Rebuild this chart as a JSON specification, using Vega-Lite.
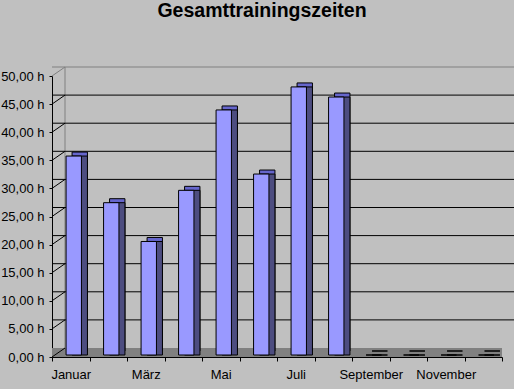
{
  "$schema": "https://vega.github.io/schema/vega-lite/v6.json",
  "width": 450,
  "height": 281,
  "autosize": "none",
  "padding": {"left": 52, "top": 76, "right": 12, "bottom": 32},
  "background": "#c0c0c0",
  "title": {"text": "Gesamttrainingszeiten", "font": "Liberation Sans", "fontSize": 19.5, "fontWeight": "bold", "color": "#000000", "anchor": "middle", "dx": -15, "offset": 45},
  "config": {"view": {"stroke": null}},
  "resolve": {"axis": {"x": "independent", "y": "independent"}},
  "datasets": {
    "months": [
      {"month": "Januar", "value": 35.4},
      {"month": "Februar", "value": 27.1},
      {"month": "März", "value": 20.2},
      {"month": "April", "value": 29.3},
      {"month": "Mai", "value": 43.6},
      {"month": "Juni", "value": 32.2},
      {"month": "Juli", "value": 47.7},
      {"month": "August", "value": 45.9},
      {"month": "September", "value": 0},
      {"month": "Oktober", "value": 0},
      {"month": "November", "value": 0},
      {"month": "Dezember", "value": 0}
    ],
    "grid": [
      {"v": 5, "ref": "Januar"}, {"v": 10, "ref": "Januar"}, {"v": 15, "ref": "Januar"},
      {"v": 20, "ref": "Januar"}, {"v": 25, "ref": "Januar"}, {"v": 30, "ref": "Januar"},
      {"v": 35, "ref": "Januar"}, {"v": 40, "ref": "Januar"}, {"v": 45, "ref": "Januar"}
    ],
    "frame": [{"base": 0, "top": 50, "ref": "Januar"}]
  },
  "layer": [
    {
      "data": {"name": "frame"},
      "mark": {"type": "rect", "color": "#808080", "x2Offset": 12, "y2Offset": -9},
      "encoding": {
        "y": {"field": "base", "type": "quantitative", "scale": {"domain": [0, 50], "nice": false}, "axis": null},
        "y2": {"field": "base"}
      }
    },
    {
      "data": {"name": "frame"},
      "mark": {"type": "rule", "color": "#808080", "strokeWidth": 1, "xOffset": 13, "x2Offset": 12, "yOffset": -9},
      "encoding": {
        "y": {"field": "top", "type": "quantitative", "scale": {"domain": [0, 50], "nice": false}, "axis": null}
      }
    },
    {
      "data": {"name": "frame"},
      "mark": {"type": "rule", "color": "#808080", "strokeWidth": 1, "xOffset": 13, "yOffset": -9, "y2Offset": -9},
      "encoding": {
        "x": {"field": "ref", "type": "nominal", "bandPosition": 0, "scale": {"domain": ["Januar","Februar","März","April","Mai","Juni","Juli","August","September","Oktober","November","Dezember"], "paddingInner": 0, "paddingOuter": 0}, "axis": null},
        "y": {"field": "base", "type": "quantitative", "scale": {"domain": [0, 50], "nice": false}, "axis": null},
        "y2": {"field": "top"}
      }
    },
    {
      "data": {"name": "frame"},
      "mark": {"type": "rule", "color": "#808080", "strokeWidth": 1, "x2Offset": -5.75, "y2Offset": -9},
      "encoding": {
        "x": {"field": "ref", "type": "nominal", "bandPosition": 0, "scale": {"domain": ["Januar","Februar","März","April","Mai","Juni","Juli","August","September","Oktober","November","Dezember"], "paddingInner": 0, "paddingOuter": 0}, "axis": null},
        "x2": {"field": "ref"},
        "y": {"field": "top", "type": "quantitative", "scale": {"domain": [0, 50], "nice": false}, "axis": null},
        "y2": {"field": "top"}
      }
    },
    {
      "data": {"name": "frame"},
      "mark": {"type": "rule", "color": "#000000", "strokeWidth": 1, "x2Offset": -5.75, "y2Offset": -9},
      "encoding": {
        "x": {"field": "ref", "type": "nominal", "bandPosition": 0, "scale": {"domain": ["Januar","Februar","März","April","Mai","Juni","Juli","August","September","Oktober","November","Dezember"], "paddingInner": 0, "paddingOuter": 0}, "axis": null},
        "x2": {"field": "ref"},
        "y": {"field": "base", "type": "quantitative", "scale": {"domain": [0, 50], "nice": false}, "axis": null},
        "y2": {"field": "base"}
      }
    },
    {
      "data": {"name": "grid"},
      "mark": {"type": "rule", "color": "#000000", "strokeWidth": 1, "xOffset": 13, "x2Offset": 12, "yOffset": -9},
      "encoding": {
        "y": {"field": "v", "type": "quantitative", "scale": {"domain": [0, 50], "nice": false}, "axis": null}
      }
    },
    {
      "data": {"name": "grid"},
      "mark": {"type": "rule", "color": "#000000", "strokeWidth": 1, "x2Offset": -5.75, "y2Offset": -9},
      "encoding": {
        "x": {"field": "ref", "type": "nominal", "bandPosition": 0, "scale": {"domain": ["Januar","Februar","März","April","Mai","Juni","Juli","August","September","Oktober","November","Dezember"], "paddingInner": 0, "paddingOuter": 0}, "axis": null},
        "x2": {"field": "ref"},
        "y": {"field": "v", "type": "quantitative", "scale": {"domain": [0, 50], "nice": false}, "axis": null},
        "y2": {"field": "v"}
      }
    },
    {
      "data": {"name": "months"},
      "mark": {"type": "bar", "color": "#6666cc", "stroke": "#000000", "strokeWidth": 1, "width": {"band": 0.41}, "xOffset": 9, "yOffset": -6, "y2Offset": -2},
      "encoding": {
        "x": {"field": "month", "type": "nominal", "scale": {"domain": ["Januar","Februar","März","April","Mai","Juni","Juli","August","September","Oktober","November","Dezember"], "paddingInner": 0, "paddingOuter": 0}, "axis": null},
        "y": {"field": "value", "type": "quantitative", "scale": {"domain": [0, 50], "nice": false}, "axis": null}
      }
    },
    {
      "data": {"name": "months"},
      "mark": {"type": "bar", "color": "#4d4d80", "stroke": "#000000", "strokeWidth": 1, "width": {"band": 0.41}, "xOffset": 9, "yOffset": -2, "y2Offset": -2},
      "encoding": {
        "x": {"field": "month", "type": "nominal", "scale": {"domain": ["Januar","Februar","März","April","Mai","Juni","Juli","August","September","Oktober","November","Dezember"], "paddingInner": 0, "paddingOuter": 0}, "axis": null},
        "y": {"field": "value", "type": "quantitative", "scale": {"domain": [0, 50], "nice": false}, "axis": null}
      }
    },
    {
      "data": {"name": "months"},
      "mark": {"type": "bar", "color": "#9999ff", "stroke": "#000000", "strokeWidth": 1, "width": {"band": 0.41}, "xOffset": 3, "yOffset": -2, "y2Offset": -2},
      "encoding": {
        "x": {
          "field": "month", "type": "nominal",
          "scale": {"domain": ["Januar","Februar","März","April","Mai","Juni","Juli","August","September","Oktober","November","Dezember"], "paddingInner": 0, "paddingOuter": 0},
          "axis": {
            "title": null, "labelAngle": 0, "tickBand": "extent", "domainColor": "#000000", "tickColor": "#000000",
            "tickSize": 4, "labelPadding": 7, "labelFont": "Liberation Sans", "labelFontSize": 13, "labelColor": "#000000",
            "labelExpr": "indexof(['Januar','März','Mai','Juli','September','November'], datum.value) >= 0 ? datum.value : ''"
          }
        },
        "y": {
          "field": "value", "type": "quantitative",
          "scale": {"domain": [0, 50], "nice": false},
          "axis": {
            "title": null, "grid": false, "values": [0,5,10,15,20,25,30,35,40,45,50], "domainColor": "#000000", "tickColor": "#000000",
            "tickSize": 3, "labelPadding": 5, "labelFont": "Liberation Sans", "labelFontSize": 13, "labelColor": "#000000",
            "labelExpr": "replace(format(datum.value, '.2f'), '.', ',') + ' h'"
          }
        }
      }
    }
  ]
}
